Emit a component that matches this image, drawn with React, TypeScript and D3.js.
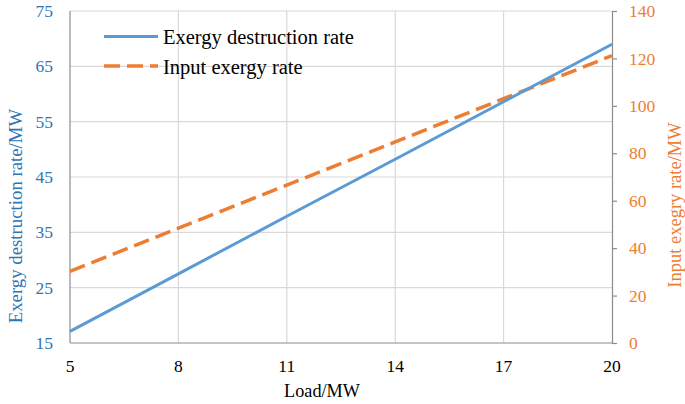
import React, { useEffect, useRef } from 'react';
import * as d3 from 'd3';

const loads = [5, 8, 11, 14, 17, 20];
const destructionRate = [17.1, 27.5, 37.9, 48.2, 58.6, 69.0];
const inputRate = [30.2, 48.4, 66.6, 84.8, 103.0, 121.2];
const xTicks = [5, 8, 11, 14, 17, 20];
const leftTicks = [15, 25, 35, 45, 55, 65, 75];
const rightTicks = [0, 20, 40, 60, 80, 100, 120, 140];

const BLUE = '#5B9BD5';
const BLUE_TEXT = '#2E75B6';
const ORANGE = '#ED7D31';
const FONT = "'Liberation Serif', 'Times New Roman', serif";

function App() {
  const svgRef = useRef<SVGSVGElement>(null);

  useEffect(() => {
    const svg = d3.select(svgRef.current);
    svg.selectAll('*').remove();
    const width = 685;
    const height = 404;
    const margin = { top: 11, right: 73, bottom: 61, left: 70 };

    const x = d3.scaleLinear().domain([5, 20]).range([margin.left, width - margin.right]);
    const yL = d3.scaleLinear().domain([15, 75]).range([height - margin.bottom, margin.top]);
    const yR = d3.scaleLinear().domain([0, 140]).range([height - margin.bottom, margin.top]);

    const g = svg.append('g');

    // gridlines
    g.selectAll('line.hg')
      .data(leftTicks.slice(1))
      .enter()
      .append('line')
      .attr('x1', x(5))
      .attr('x2', x(20))
      .attr('y1', d => yL(d))
      .attr('y2', d => yL(d))
      .attr('stroke', '#d9d9d9')
      .attr('stroke-width', 1.2);
    g.selectAll('line.vg')
      .data(xTicks.slice(1, -1))
      .enter()
      .append('line')
      .attr('x1', d => x(d))
      .attr('x2', d => x(d))
      .attr('y1', yL(15))
      .attr('y2', yL(75))
      .attr('stroke', '#d9d9d9')
      .attr('stroke-width', 1.2);

    // axis lines
    const axisColor = '#8c8c8c';
    g.append('line').attr('x1', x(5)).attr('x2', x(5)).attr('y1', yL(15)).attr('y2', yL(75))
      .attr('stroke', axisColor).attr('stroke-width', 1.2);
    g.append('line').attr('x1', x(5)).attr('x2', x(20)).attr('y1', yL(15)).attr('y2', yL(15))
      .attr('stroke', axisColor).attr('stroke-width', 1.2);

    const right = g.append('g')
      .attr('transform', `translate(${x(20)},0)`)
      .call(d3.axisRight(yR).tickValues(rightTicks).tickSize(5).tickPadding(12));
    right.select('.domain').attr('stroke', axisColor).attr('stroke-width', 1.2);
    right.selectAll('.tick line').attr('stroke', axisColor).attr('stroke-width', 1.2);
    right.selectAll('.tick text')
      .attr('fill', ORANGE)
      .attr('font-size', 17.5)
      .style('font-family', FONT);

    // left tick labels
    g.selectAll('text.yl')
      .data(leftTicks)
      .enter()
      .append('text')
      .attr('x', 53)
      .attr('y', d => yL(d))
      .attr('dy', '0.35em')
      .attr('text-anchor', 'end')
      .attr('font-size', 17.5)
      .attr('fill', BLUE_TEXT)
      .style('font-family', FONT)
      .text(d => d);

    // x tick labels
    g.selectAll('text.xl')
      .data(xTicks)
      .enter()
      .append('text')
      .attr('x', d => x(d))
      .attr('y', 372)
      .attr('text-anchor', 'middle')
      .attr('font-size', 17.5)
      .attr('fill', '#000')
      .style('font-family', FONT)
      .text(d => d);

    // axis titles
    g.append('text')
      .attr('x', 322)
      .attr('y', 397)
      .attr('text-anchor', 'middle')
      .attr('font-size', 18.2)
      .attr('fill', '#000')
      .style('font-family', FONT)
      .text('Load/MW');
    g.append('text')
      .attr('transform', 'translate(22,216) rotate(-90)')
      .attr('text-anchor', 'middle')
      .attr('font-size', 18.8)
      .attr('fill', BLUE_TEXT)
      .style('font-family', FONT)
      .text('Exergy destruction rate/MW');
    g.append('text')
      .attr('transform', 'translate(681,205) rotate(-90)')
      .attr('text-anchor', 'middle')
      .attr('font-size', 18.5)
      .attr('fill', ORANGE)
      .style('font-family', FONT)
      .text('Input exegry rate/MW');

    // lines
    const lineL = d3.line<number>().x((d, i) => x(loads[i])).y(d => yL(d));
    const lineR = d3.line<number>().x((d, i) => x(loads[i])).y(d => yR(d));
    g.append('path')
      .datum(inputRate)
      .attr('d', lineR)
      .attr('fill', 'none')
      .attr('stroke', ORANGE)
      .attr('stroke-width', 3.5)
      .attr('stroke-dasharray', '16,7');
    g.append('path')
      .datum(destructionRate)
      .attr('d', lineL)
      .attr('fill', 'none')
      .attr('stroke', BLUE)
      .attr('stroke-width', 3);

    // legend
    const legend = [
      { name: 'Exergy destruction rate', color: BLUE, dash: null, w: 3, y: 36.5 },
      { name: 'Input exergy rate', color: ORANGE, dash: '16,7', w: 3.5, y: 66 },
    ];
    legend.forEach(l => {
      g.append('line')
        .attr('x1', 104)
        .attr('x2', 158)
        .attr('y1', l.y)
        .attr('y2', l.y)
        .attr('stroke', l.color)
        .attr('stroke-width', l.w)
        .attr('stroke-dasharray', l.dash);
      g.append('text')
        .attr('x', 163)
        .attr('y', l.y + 7.5)
        .attr('font-size', 20.5)
        .attr('fill', '#000')
        .style('font-family', FONT)
        .text(l.name);
    });
  }, []);

  return <svg ref={svgRef} width={685} height={404} style={{ position: 'absolute', left: 0, top: 0 }} />;
}

export default App;
